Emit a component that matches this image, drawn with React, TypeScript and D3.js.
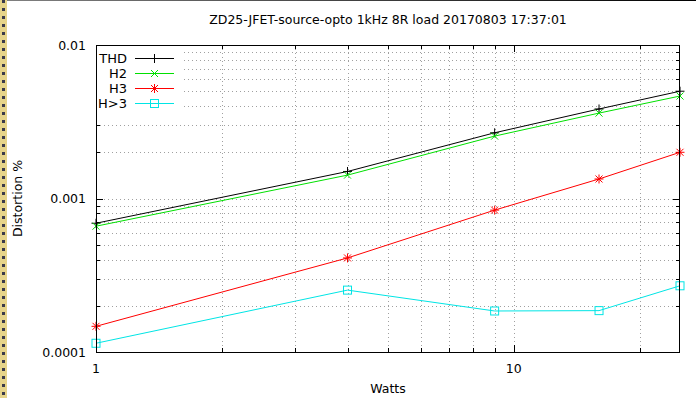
import React from "react";
import * as d3 from "d3";

const watts = [1, 4, 9, 16, 25];
const thd = [6.9e-4, 1.5e-3, 2.68e-3, 3.83e-3, 5.0e-3];
const h2 = [6.6e-4, 1.42e-3, 2.55e-3, 3.6e-3, 4.65e-3];
const h3 = [1.47e-4, 4.1e-4, 8.4e-4, 1.34e-3, 2.0e-3];
const hgt3 = [1.14e-4, 2.53e-4, 1.85e-4, 1.86e-4, 2.7e-4];
const yTickLabels = ["0.0001", "0.001", "0.01"];
const xTickLabels = ["1", "10"];
const title = "ZD25-JFET-source-opto 1kHz 8R load 20170803 17:37:01";

const W = 696, H = 398;
const L = 96, R = 680, T = 45, B = 352;
const FONT = "DejaVu Sans, sans-serif";

type Series = { name: string; values: number[]; color: string; marker: string };
const series: Series[] = [
  { name: "THD", values: thd, color: "#000000", marker: "plus" },
  { name: "H2", values: h2, color: "#00e000", marker: "x" },
  { name: "H3", values: h3, color: "#ff0000", marker: "star" },
  { name: "H>3", values: hgt3, color: "#00e5e5", marker: "square" },
];

function Marker({ kind, x, y, color }: { kind: string; x: number; y: number; color: string }) {
  const s = 4.5;
  const d = 3.5;
  if (kind === "plus")
    return <path d={`M${x - s},${y}H${x + s}M${x},${y - s}V${y + s}`} stroke={color} strokeWidth={1} fill="none" />;
  if (kind === "x")
    return <path d={`M${x - d},${y - d}L${x + d},${y + d}M${x - d},${y + d}L${x + d},${y - d}`} stroke={color} strokeWidth={1} fill="none" />;
  if (kind === "star")
    return (
      <path
        d={`M${x - s},${y}H${x + s}M${x},${y - s}V${y + s}M${x - d},${y - d}L${x + d},${y + d}M${x - d},${y + d}L${x + d},${y - d}`}
        stroke={color}
        strokeWidth={1}
        fill="none"
      />
    );
  return <rect x={x - 4} y={y - 4} width={8} height={8} stroke={color} strokeWidth={1} fill="none" />;
}

export default function App() {
  const x = d3.scaleLog().domain([1, 25]).range([L, R]);
  const y = d3.scaleLog().domain([1e-4, 1e-2]).range([B, T]);

  const xGrid: number[] = [];
  for (let v = 1; v <= 25; v += v < 10 ? 1 : 10) if (v <= 25) xGrid.push(v);
  const yGrid: number[] = [];
  for (const dec of [1e-4, 1e-3]) for (let k = 1; k <= 9; k++) yGrid.push(dec * k);
  yGrid.push(1e-2);

  const line = d3
    .line<number>()
    .x((_, i) => x(watts[i]))
    .y((v) => y(v));

  const yMajor = [1e-4, 1e-3, 1e-2];
  const xMajor = [1, 10];

  return (
    <svg width={W} height={H} style={{ position: "absolute", left: 0, top: 0, background: "#fff" }} fontFamily={FONT}>
      <rect x={0} y={0} width={W} height={H} fill="#fff" />
      {/* left decoration strip */}
      <rect x={0} y={0} width={7} height={H} fill="#e6d48a" />
      <line x1={3.5} y1={0} x2={3.5} y2={H} stroke="#3a3a4a" strokeWidth={3} strokeDasharray="3,5" />
      <line x1={7} y1={0} x2={W} y2={0.5} stroke="#000" strokeWidth={1} />

      {/* grid */}
      <g stroke="#a0a0a0" strokeWidth={1} strokeDasharray="1,3">
        {xGrid
          .filter((v) => v > 1 && v < 25)
          .map((v) => (
            <line key={"gx" + v} x1={Math.round(x(v)) + 0.5} x2={Math.round(x(v)) + 0.5} y1={T} y2={B} />
          ))}
        {yGrid
          .filter((v) => v > 1e-4 && v < 1e-2)
          .map((v) => (
            <line key={"gy" + v} x1={L} x2={R} y1={Math.round(y(v)) + 0.5} y2={Math.round(y(v)) + 0.5} />
          ))}
      </g>

      {/* ticks */}
      <g stroke="#000" strokeWidth={1}>
        {yGrid.map((v) => {
          const yy = Math.round(y(v)) + 0.5;
          const len = yMajor.some((m) => Math.abs(m - v) < 1e-9) ? 7 : 4;
          return (
            <g key={"ty" + v}>
              <line x1={L} x2={L + len} y1={yy} y2={yy} />
              <line x1={R} x2={R - len} y1={yy} y2={yy} />
            </g>
          );
        })}
        {xGrid.map((v) => {
          const xx = Math.round(x(v)) + 0.5;
          const len = xMajor.includes(v) ? 7 : 4;
          return (
            <g key={"tx" + v}>
              <line x1={xx} x2={xx} y1={B} y2={B - len} />
              <line x1={xx} x2={xx} y1={T} y2={T + len} />
            </g>
          );
        })}
      </g>

      {/* legend box (opaque) */}
      <rect x={L + 1} y={51} width={84} height={58} fill="#fff" />

      {/* series */}
      {series.map((s) => (
        <g key={s.name}>
          <path d={line(s.values) || ""} stroke={s.color} strokeWidth={1} fill="none" />
          {s.values.map((v, i) => (
            <Marker key={i} kind={s.marker} x={x(watts[i])} y={y(v)} color={s.color} />
          ))}
        </g>
      ))}

      {/* frame */}
      <rect x={L + 0.5} y={T + 0.5} width={R - L - 1} height={B - T} fill="none" stroke="#000" strokeWidth={1} />

      {/* legend */}
      {series.map((s, i) => {
        const ly = 58.5 + i * 15;
        return (
          <g key={"lg" + s.name}>
            <text x={127} y={ly + 4.5} textAnchor="end" fontSize={13} fill="#000">
              {s.name}
            </text>
            <line x1={135} x2={174} y1={ly} y2={ly} stroke={s.color} strokeWidth={1} />
            <Marker kind={s.marker} x={154.5} y={ly} color={s.color} />
          </g>
        );
      })}

      {/* tick labels */}
      {yMajor.map((v, i) => (
        <text key={"yl" + v} x={86} y={y(v) + 4.5} textAnchor="end" fontSize={12.5} fill="#000">
          {yTickLabels[i]}
        </text>
      ))}
      {xMajor.map((v, i) => (
        <text key={"xl" + v} x={x(v)} y={373} textAnchor="middle" fontSize={12.5} fill="#000">
          {xTickLabels[i]}
        </text>
      ))}

      {/* titles */}
      <text x={(L + R) / 2} y={24} textAnchor="middle" fontSize={12.5} fill="#000">
        {title}
      </text>
      <text x={(L + R) / 2} y={393} textAnchor="middle" fontSize={12.5} fill="#000">
        Watts
      </text>
      <text transform={`translate(22,${(T + B) / 2}) rotate(-90)`} textAnchor="middle" fontSize={12.5} fill="#000">
        Distortion %
      </text>
    </svg>
  );
}
